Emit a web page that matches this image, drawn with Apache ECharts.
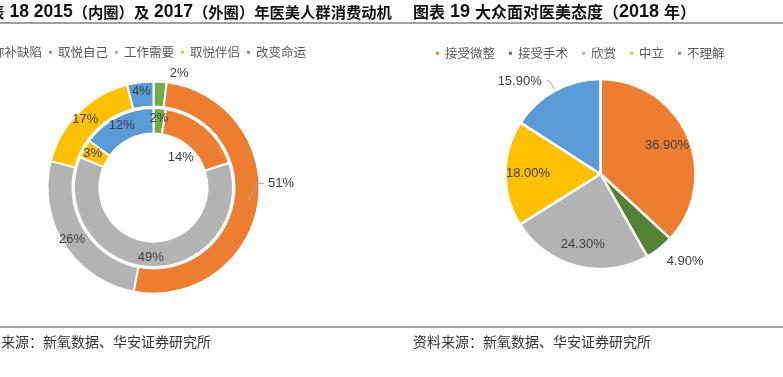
<!DOCTYPE html>
<html><head><meta charset="utf-8">
<script src="https://cdn.jsdelivr.net/npm/echarts@6/dist/echarts.min.js"></script>
<style>html,body{margin:0;padding:0;background:#fff}#c{width:783px;height:377px}</style>
</head><body><div id="c"></div>
<script>
// ---- data ----
const motiveNames = ['弥补缺陷', '取悦自己', '工作需要', '取悦伴侣', '改变命运'];
const motiveColors = ['#70AD47', '#ED7D31', '#B3B3B3', '#FFC000', '#5B9BD5'];
const motive2015 = [2, 14, 49, 3, 12];   // inner ring (labels as printed)
const motive2017 = [2, 51, 26, 17, 4];   // outer ring
const attitudeNames = ['接受微整', '接受手术', '欣赏', '中立', '不理解'];
const attitudeColors = ['#ED7D31', '#548235', '#B3B3B3', '#FFC000', '#5B9BD5'];
const attitude2018 = [36.9, 4.9, 24.3, 18.0, 15.9];
const sourceText = '资料来源：新氧数据、华安证券研究所';

const labelColor = '#404040';
const labelFont = 'Liberation Sans, Arial, sans-serif';
const cjk = 'Noto Sans CJK SC';

function ringData(vals, names, colors, perItem) {
  return vals.map((v, i) => Object.assign({
    value: v, name: names[i], itemStyle: { color: colors[i] }
  }, perItem ? perItem(i) : {}));
}

const chart = echarts.init(document.getElementById('c'), null, { renderer: 'canvas' });

const titleRichL = {
  c: { fontFamily: cjk, fontWeight: 'bold', fontSize: 15.3, fill: '#111' },
  d: { fontFamily: 'Liberation Sans', fontWeight: 'bold', fontSize: 17.5, fill: '#111' }
};
const titleRichR = {
  c: { fontFamily: cjk, fontWeight: 'bold', fontSize: 16, fill: '#111' },
  d: { fontFamily: 'Liberation Sans', fontWeight: 'bold', fontSize: 18, fill: '#111' }
};

const option = {
  animation: false,
  textStyle: { fontFamily: labelFont },
  graphic: [
    { type: 'text', x: -26, y: 12, style: { text: '{c|图表}{d| 18 2015}{c|（内圈）及}{d| 2017}{c|（外圈）年医美人群消费动机}', rich: titleRichL, verticalAlign: 'middle' } },
    { type: 'text', x: 413, y: 12, style: { text: '{c|图表}{d| 19 }{c|大众面对医美态度（}{d|2018 }{c|年）}', rich: titleRichR, verticalAlign: 'middle' } },
    { type: 'line', shape: { x1: 0, y1: 23, x2: 783, y2: 23 }, style: { stroke: '#808080', lineWidth: 1.5 } },
    { type: 'line', shape: { x1: 0, y1: 327, x2: 783, y2: 327 }, style: { stroke: '#808080', lineWidth: 1.5 } },
    { type: 'text', x: -27, y: 342, style: { text: sourceText, fontFamily: cjk, fontSize: 14, fill: '#333', verticalAlign: 'middle' } },
    { type: 'text', x: 413, y: 342, style: { text: sourceText, fontFamily: cjk, fontSize: 14, fill: '#333', verticalAlign: 'middle' } }
  ],
  legend: [
    { data: motiveNames, left: -24, top: 41, icon: 'rect', itemWidth: 5, itemHeight: 5, itemGap: 5,
      selectedMode: false, textStyle: { fontFamily: cjk, fontSize: 12.5, color: '#595959' } },
    { data: attitudeNames, left: 429, top: 42, icon: 'rect', itemWidth: 5, itemHeight: 5, itemGap: 12,
      selectedMode: false, textStyle: { fontFamily: cjk, fontSize: 12.5, color: '#595959' } }
  ],
  series: [
    { // 2015 inner ring
      type: 'pie', center: [153.5, 187.5], radius: [54, 79.5], startAngle: 90, clockwise: true,
      avoidLabelOverlap: false, silent: true,
      itemStyle: { borderColor: '#fff', borderWidth: 2 },
      label: { show: true, position: 'inside', formatter: '{c}%', color: labelColor, fontSize: 13, fontFamily: labelFont },
      labelLine: { show: false },
      labelLayout: function (p) { if (p.dataIndex === 1) return { dx: -18, dy: 23 }; },
      data: ringData(motive2015, motiveNames, motiveColors)
    },
    { // 2017 outer ring
      type: 'pie', center: [153.5, 187.5], radius: [81, 106], startAngle: 90, clockwise: true,
      avoidLabelOverlap: false, silent: true,
      itemStyle: { borderColor: '#fff', borderWidth: 2 },
      label: { show: true, position: 'inside', formatter: '{c}%', color: labelColor, fontSize: 13, fontFamily: labelFont },
      labelLine: { show: false, length: 8, length2: 6 },
      data: ringData(motive2017, motiveNames, motiveColors, i =>
        i === 0 ? { label: { position: 'outside', distanceToLabelLine: 3 }, labelLine: { show: false, length: 8, length2: 6 } } :
        i === 1 ? { label: { show: false } } : {})
    },
    { // 2017 outer ring: 51% label with leader line, drawn above the ring
      type: 'pie', center: [153.5, 187.5], radius: [81, 106], startAngle: 90, clockwise: true,
      avoidLabelOverlap: false, silent: true, z: 5,
      itemStyle: { color: 'rgba(0,0,0,0)', borderWidth: 0 },
      label: { show: false, position: 'outside', formatter: '{c}%', color: labelColor, fontSize: 13, fontFamily: labelFont },
      labelLine: { show: false, length: 8, length2: 6, lineStyle: { color: '#A5A5A5', width: 1 } },
      labelLayout: function (p) {
        if (p.dataIndex !== 1 || !p.labelLinePoints) return;
        const pts = p.labelLinePoints;
        const ex = pts[1][0] - pts[0][0], ey = pts[1][1] - pts[0][1];
        const len = Math.sqrt(ex * ex + ey * ey) || 1;
        const start = [pts[0][0] - ex / len * 11, pts[0][1] - ey / len * 11];
        const dx = -9, dy = -22;
        const lx = p.labelRect.x + dx, ly = p.labelRect.y + dy + p.labelRect.height / 2;
        return { dx: dx, dy: dy, labelLinePoints: [start, [lx - 11, ly], [lx - 4, ly]] };
      },
      data: motive2017.map((v, i) => ({ value: v, name: motiveNames[i],
        label: { show: i === 1 }, labelLine: { show: i === 1 } }))
    },
    { // 2018 pie (visible sectors + outside labels)
      type: 'pie', center: [600.5, 174], radius: [0, 95], startAngle: 90, clockwise: true,
      avoidLabelOverlap: false, silent: true,
      itemStyle: { borderColor: '#fff', borderWidth: 2.5 },
      label: { show: false, formatter: p => p.value.toFixed(2) + '%', color: labelColor, fontSize: 13, fontFamily: labelFont },
      labelLine: { show: false },
      labelLayout: function (p) { if (p.dataIndex === 1) return { dx: -4, dy: 5 }; },
      data: ringData(attitude2018, attitudeNames, attitudeColors, i =>
        i === 1 ? { label: { show: true, position: 'outside' }, labelLine: { show: false, length: 10, length2: 0 } } :
        i === 4 ? { label: { show: true, position: 'outside' }, labelLine: { show: true, length: 11, length2: 3, lineStyle: { color: '#A5A5A5', width: 1 } } } : {})
    },
    { // 2018 inside labels (transparent sectors, label radius ~0.72R)
      type: 'pie', center: [600.5, 174], radius: [44, 95], startAngle: 90, clockwise: true,
      avoidLabelOverlap: false, silent: true,
      itemStyle: { color: 'rgba(0,0,0,0)', borderWidth: 0 },
      label: { show: true, position: 'inside', formatter: p => p.value.toFixed(2) + '%', color: labelColor, fontSize: 13, fontFamily: labelFont },
      labelLine: { show: false },
      data: attitude2018.map((v, i) => ({ value: v, name: attitudeNames[i] + ' ', label: { show: i !== 1 && i !== 4 } }))
    }
  ]
};
chart.setOption(option);
</script></body></html>
